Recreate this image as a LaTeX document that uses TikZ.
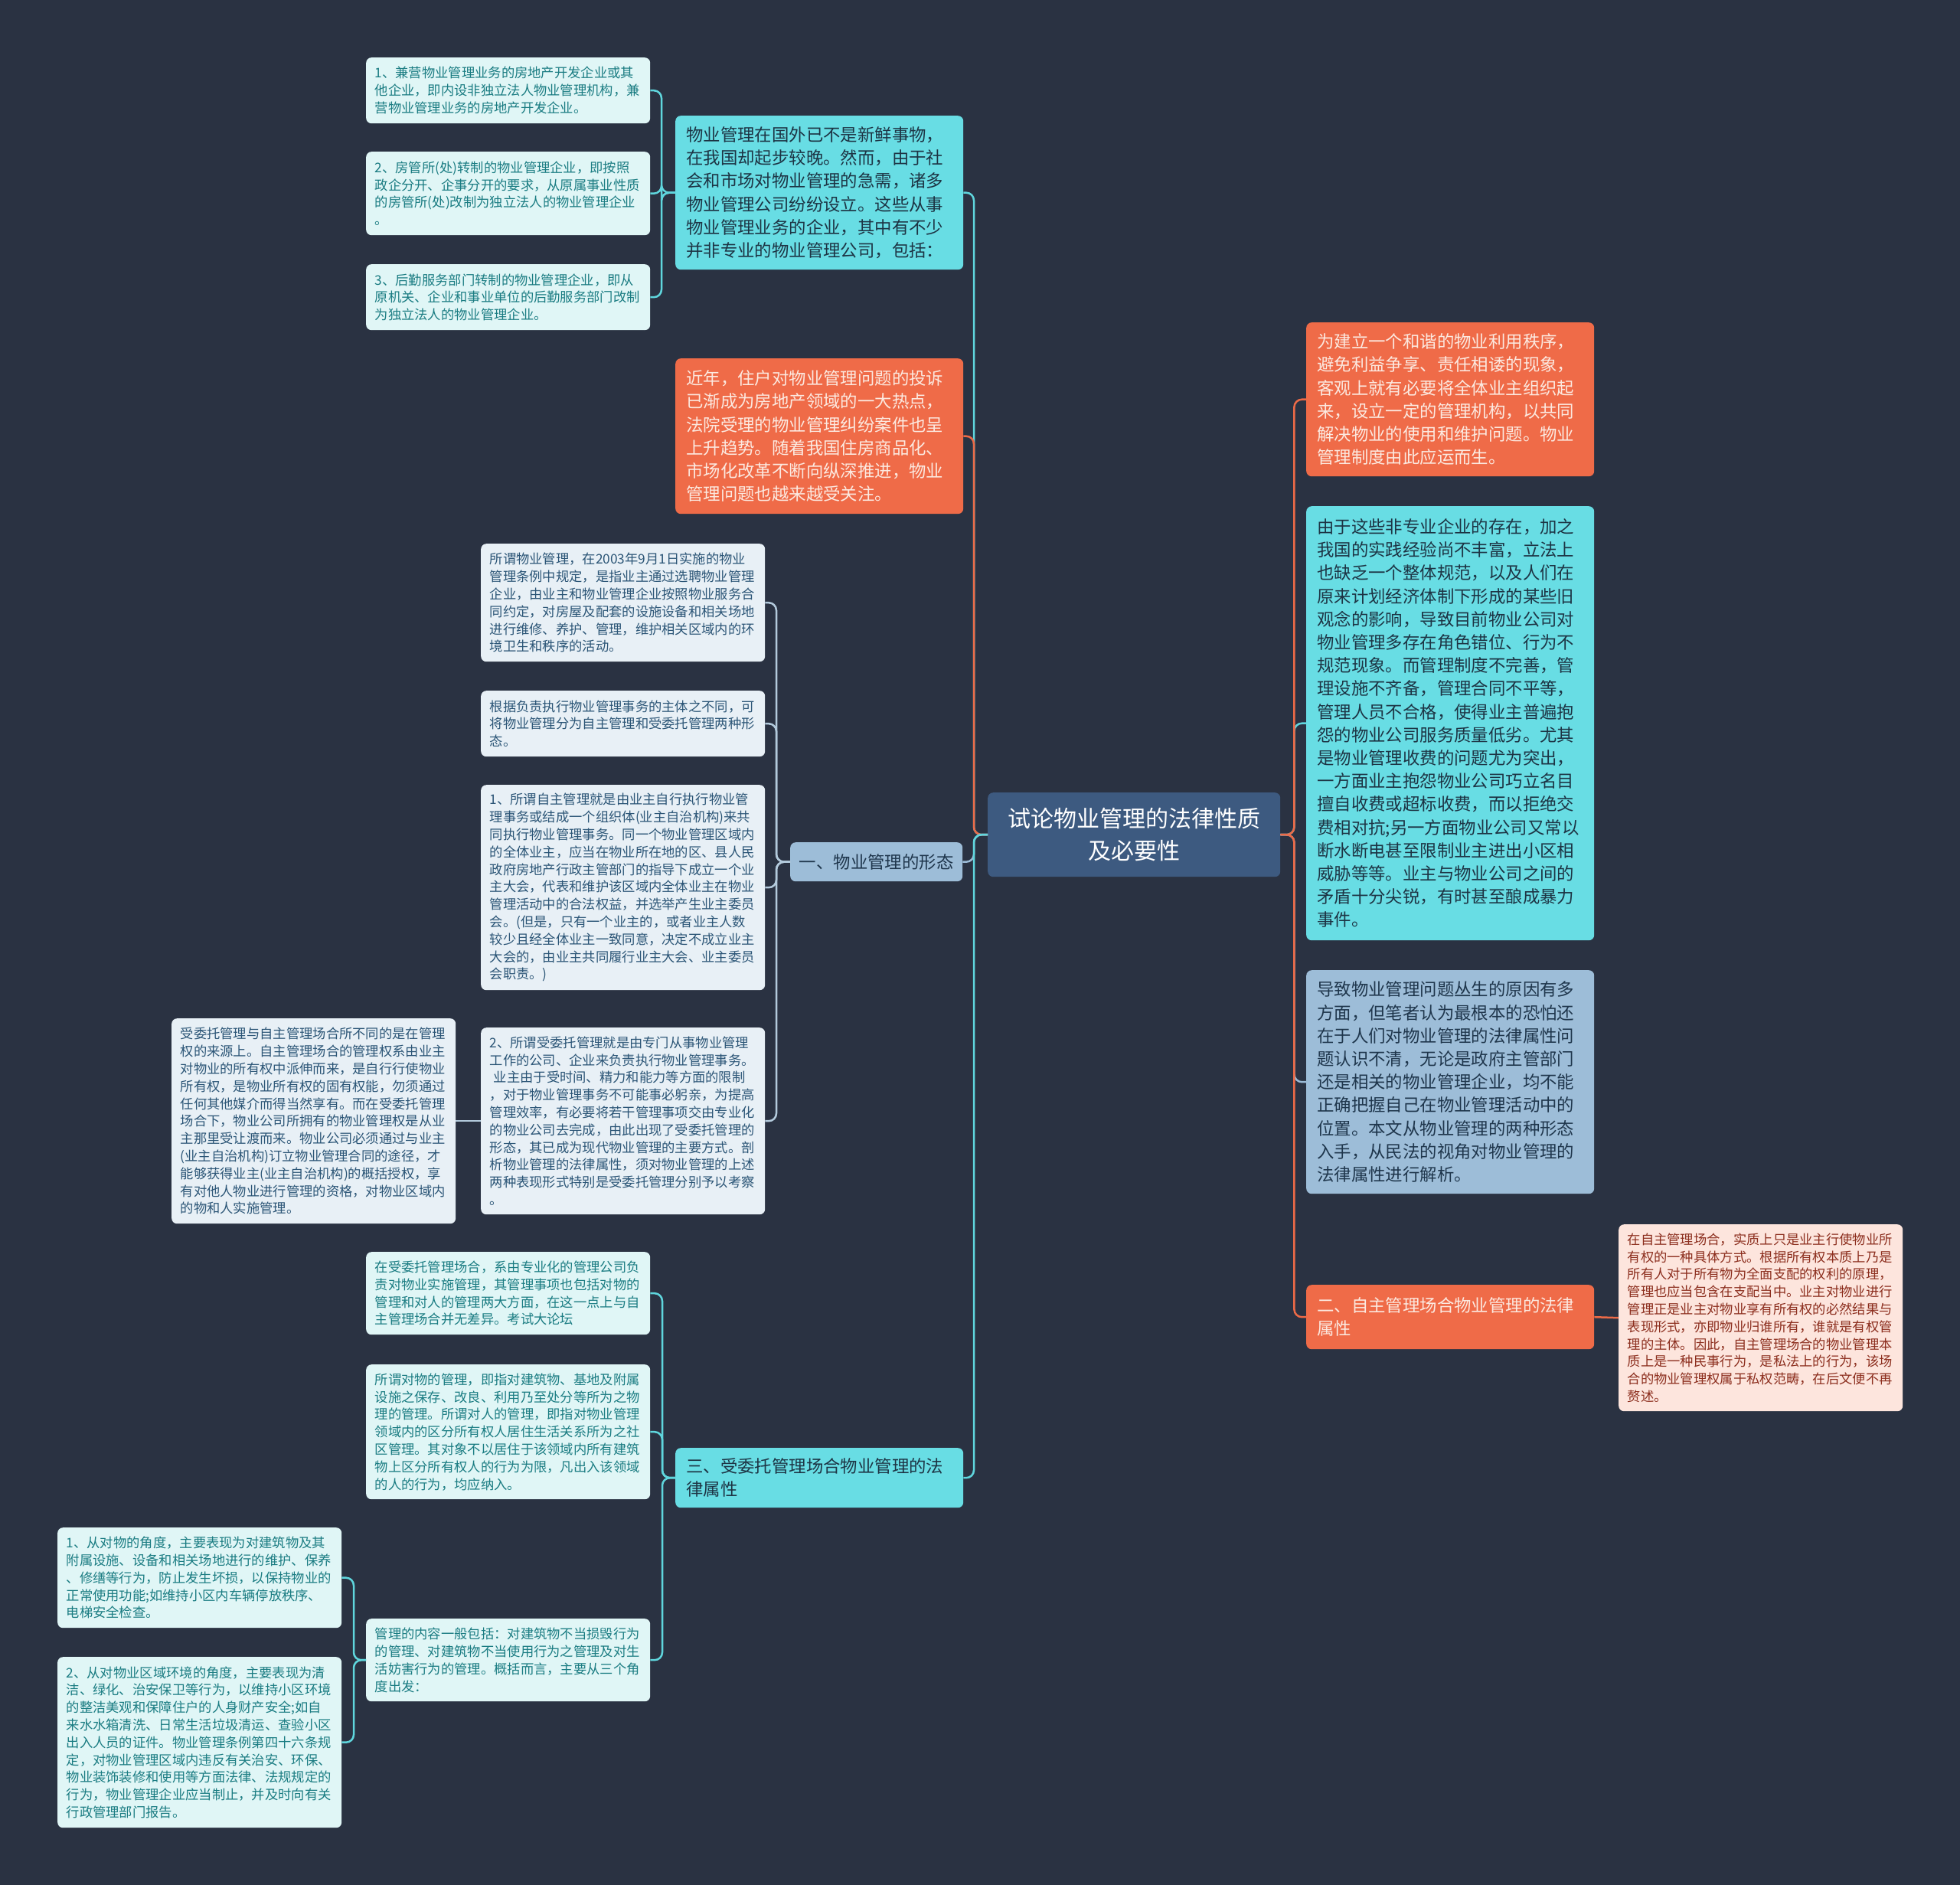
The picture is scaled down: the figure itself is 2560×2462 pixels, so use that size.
\documentclass[tikz,border=0pt]{standalone}
\usepackage{fontspec}
\setmainfont{Noto Sans CJK SC}
\definecolor{bgc}{HTML}{2A3242}
\definecolor{ctrfill}{HTML}{3D5A80}
\definecolor{cyanfill}{HTML}{68DDE4}
\definecolor{cyantext}{HTML}{1D3444}
\definecolor{orgfill}{HTML}{EF6B48}
\definecolor{orgtext}{HTML}{FCE9E0}
\definecolor{bluefill}{HTML}{9DBDD8}
\definecolor{bluetext}{HTML}{1F364C}
\definecolor{scyanfill}{HTML}{E0F6F6}
\definecolor{scyantext}{HTML}{1A7C82}
\definecolor{sgrayfill}{HTML}{E8F0F6}
\definecolor{sgraytext}{HTML}{2B5576}
\definecolor{spinkfill}{HTML}{FDE5DD}
\definecolor{spinktext}{HTML}{8C2E1E}
\definecolor{cyanline}{HTML}{5FD6DD}
\definecolor{orgline}{HTML}{EC6A47}
\definecolor{blueline}{HTML}{9BBBD6}
\definecolor{lblueline}{HTML}{B3CADC}
\begin{document}
\begin{tikzpicture}[x=1pt,y=-1pt,
  boxbase/.style={rounded corners=7pt, anchor=north west, align=left, inner ysep=0pt},
  smallbox/.style={boxbase, font=\fontsize{17.3}{22.8}\selectfont, text width=348pt, inner xsep=11.5pt},
  bigbox/.style={boxbase, font=\fontsize{22.4}{30.2}\selectfont, text width=348pt, inner xsep=14pt},
  scyan/.style={smallbox, fill=scyanfill, text=scyantext},
  sgray/.style={smallbox, fill=sgrayfill, text=sgraytext},
  spink/.style={smallbox, fill=spinkfill, text=spinktext},
  bcyan/.style={bigbox, fill=cyanfill, text=cyantext},
  borg/.style={bigbox, fill=orgfill, text=orgtext},
  bblue/.style={bigbox, fill=bluefill, text=bluetext},
  link/.style={line width=2.5pt, rounded corners=10pt},
]
\useasboundingbox (0,0) rectangle (2560,2462);
\fill[bgc] (0,0) rectangle (2560,2462);

% center
\node[boxbase, align=center, fill=ctrfill, text=white, font=\fontsize{30}{42}\selectfont,
  text width=362pt, inner xsep=10pt, minimum height=110pt] (ctr) at (1290,1035)
  {试论物业管理的法律性质\\及必要性};

% left branch 1
\node[bcyan, minimum height=201pt] (P1) at (882,151)
{物业管理在国外已不是新鲜事物，\\
在我国却起步较晚。然而，由于社\\
会和市场对物业管理的急需，诸多\\
物业管理公司纷纷设立。这些从事\\
物业管理业务的企业，其中有不少\\
并非专业的物业管理公司，包括：};

\node[scyan, minimum height=86pt] (L1) at (478,75)
{1、兼营物业管理业务的房地产开发企业或其\\
他企业，即内设非独立法人物业管理机构，兼\\
营物业管理业务的房地产开发企业。};
\node[scyan, minimum height=109pt] (L2) at (478,198)
{2、房管所(处)转制的物业管理企业，即按照\\
政企分开、企事分开的要求，从原属事业性质\\
的房管所(处)改制为独立法人的物业管理企业\\
。};
\node[scyan, minimum height=86pt] (L3) at (478,345)
{3、后勤服务部门转制的物业管理企业，即从\\
原机关、企业和事业单位的后勤服务部门改制\\
为独立法人的物业管理企业。};

% left branch 2
\node[borg, minimum height=203pt] (P2) at (882,468)
{近年，住户对物业管理问题的投诉\\
已渐成为房地产领域的一大热点，\\
法院受理的物业管理纠纷案件也呈\\
上升趋势。随着我国住房商品化、\\
市场化改革不断向纵深推进，物业\\
管理问题也越来越受关注。};

% left branch 3
\node[bblue, align=center, text width=203pt, inner xsep=11pt, minimum height=51pt] (P3) at (1032,1100)
{一、物业管理的形态};

\node[sgray, minimum height=154pt] (C1) at (628,710)
{所谓物业管理，在2003年9月1日实施的物业\\
管理条例中规定，是指业主通过选聘物业管理\\
企业，由业主和物业管理企业按照物业服务合\\
同约定，对房屋及配套的设施设备和相关场地\\
进行维修、养护、管理，维护相关区域内的环\\
境卫生和秩序的活动。};
\node[sgray, minimum height=86pt] (C2) at (628,902)
{根据负责执行物业管理事务的主体之不同，可\\
将物业管理分为自主管理和受委托管理两种形\\
态。};
\node[sgray, minimum height=268pt] (C3) at (628,1025)
{1、所谓自主管理就是由业主自行执行物业管\\
理事务或结成一个组织体(业主自治机构)来共\\
同执行物业管理事务。同一个物业管理区域内\\
的全体业主，应当在物业所在地的区、县人民\\
政府房地产行政主管部门的指导下成立一个业\\
主大会，代表和维护该区域内全体业主在物业\\
管理活动中的合法权益，并选举产生业主委员\\
会。(但是，只有一个业主的，或者业主人数\\
较少且经全体业主一致同意，决定不成立业主\\
大会的，由业主共同履行业主大会、业主委员\\
会职责。)};
\node[sgray, minimum height=244pt] (C4) at (628,1342)
{2、所谓受委托管理就是由专门从事物业管理\\
工作的公司、企业来负责执行物业管理事务。\\
\hspace*{0.3em}业主由于受时间、精力和能力等方面的限制\\
，对于物业管理事务不可能事必躬亲，为提高\\
管理效率，有必要将若干管理事项交由专业化\\
的物业公司去完成，由此出现了受委托管理的\\
形态，其已成为现代物业管理的主要方式。剖\\
析物业管理的法律属性，须对物业管理的上述\\
两种表现形式特别是受委托管理分别予以考察\\
。};
\node[sgray, minimum height=268pt] (C5) at (224,1330)
{受委托管理与自主管理场合所不同的是在管理\\
权的来源上。自主管理场合的管理权系由业主\\
对物业的所有权中派伸而来，是自行行使物业\\
所有权，是物业所有权的固有权能，勿须通过\\
任何其他媒介而得当然享有。而在受委托管理\\
场合下，物业公司所拥有的物业管理权是从业\\
主那里受让渡而来。物业公司必须通过与业主\\
(业主自治机构)订立物业管理合同的途径，才\\
能够获得业主(业主自治机构)的概括授权，享\\
有对他人物业进行管理的资格，对物业区域内\\
的物和人实施管理。};

% left branch 4
\node[bcyan, minimum height=78pt] (P4) at (882,1891)
{三、受委托管理场合物业管理的法\\律属性};

\node[scyan, minimum height=108pt] (D1) at (478,1635)
{在受委托管理场合，系由专业化的管理公司负\\
责对物业实施管理，其管理事项也包括对物的\\
管理和对人的管理两大方面，在这一点上与自\\
主管理场合并无差异。考试大论坛};
\node[scyan, minimum height=176pt] (D2) at (478,1782)
{所谓对物的管理，即指对建筑物、基地及附属\\
设施之保存、改良、利用乃至处分等所为之物\\
理的管理。所谓对人的管理，即指对物业管理\\
领域内的区分所有权人居住生活关系所为之社\\
区管理。其对象不以居住于该领域内所有建筑\\
物上区分所有权人的行为为限，凡出入该领域\\
的人的行为，均应纳入。};
\node[scyan, minimum height=108pt] (D3) at (478,2114)
{管理的内容一般包括：对建筑物不当损毁行为\\
的管理、对建筑物不当使用行为之管理及对生\\
活妨害行为的管理。概括而言，主要从三个角\\
度出发：};

\node[scyan, minimum height=131pt] (E1) at (75,1995)
{1、从对物的角度，主要表现为对建筑物及其\\
附属设施、设备和相关场地进行的维护、保养\\
、修缮等行为，防止发生坏损，以保持物业的\\
正常使用功能;如维持小区内车辆停放秩序、\\
电梯安全检查。};
\node[scyan, minimum height=223pt] (E2) at (75,2164)
{2、从对物业区域环境的角度，主要表现为清\\
洁、绿化、治安保卫等行为，以维持小区环境\\
的整洁美观和保障住户的人身财产安全;如自\\
来水水箱清洗、日常生活垃圾清运、查验小区\\
出入人员的证件。物业管理条例第四十六条规\\
定，对物业管理区域内违反有关治安、环保、\\
物业装饰装修和使用等方面法律、法规规定的\\
行为，物业管理企业应当制止，并及时向有关\\
行政管理部门报告。};

% right side
\node[borg, minimum height=201pt] (R1) at (1706,421)
{为建立一个和谐的物业利用秩序，\\
避免利益争享、责任相诿的现象，\\
客观上就有必要将全体业主组织起\\
来，设立一定的管理机构，以共同\\
解决物业的使用和维护问题。物业\\
管理制度由此应运而生。};
\node[bcyan, minimum height=567pt] (R2) at (1706,661)
{由于这些非专业企业的存在，加之\\
我国的实践经验尚不丰富，立法上\\
也缺乏一个整体规范，以及人们在\\
原来计划经济体制下形成的某些旧\\
观念的影响，导致目前物业公司对\\
物业管理多存在角色错位、行为不\\
规范现象。而管理制度不完善，管\\
理设施不齐备，管理合同不平等，\\
管理人员不合格，使得业主普遍抱\\
怨的物业公司服务质量低劣。尤其\\
是物业管理收费的问题尤为突出，\\
一方面业主抱怨物业公司巧立名目\\
擅自收费或超标收费，而以拒绝交\\
费相对抗;另一方面物业公司又常以\\
断水断电甚至限制业主进出小区相\\
威胁等等。业主与物业公司之间的\\
矛盾十分尖锐，有时甚至酿成暴力\\
事件。};
\node[bblue, minimum height=292pt] (R3) at (1706,1267)
{导致物业管理问题丛生的原因有多\\
方面，但笔者认为最根本的恐怕还\\
在于人们对物业管理的法律属性问\\
题认识不清，无论是政府主管部门\\
还是相关的物业管理企业，均不能\\
正确把握自己在物业管理活动中的\\
位置。本文从物业管理的两种形态\\
入手，从民法的视角对物业管理的\\
法律属性进行解析。};
\node[borg, minimum height=84pt] (R4) at (1706,1678)
{二、自主管理场合物业管理的法律\\属性};
\node[spink, minimum height=244pt] (R5) at (2114,1599)
{在自主管理场合，实质上只是业主行使物业所\\
有权的一种具体方式。根据所有权本质上乃是\\
所有人对于所有物为全面支配的权利的原理，\\
管理也应当包含在支配当中。业主对物业进行\\
管理正是业主对物业享有所有权的必然结果与\\
表现形式，亦即物业归谁所有，谁就是有权管\\
理的主体。因此，自主管理场合的物业管理本\\
质上是一种民事行为，是私法上的行为，该场\\
合的物业管理权属于私权范畴，在后文便不再\\
赘述。};

% connectors: center -> left
\draw[link, cyanline] (ctr.west) -- ++(-18,0) |- (P1.east);
\draw[link, orgline] (ctr.west) -- ++(-18,0) |- (P2.east);
\draw[link, blueline] (ctr.west) -- ++(-18,0) |- (P3.east);
\draw[link, cyanline] (ctr.west) -- ++(-18,0) |- (P4.east);
% center -> right
\draw[link, cyanline] (ctr.east) -- ++(18,0) |- (R2.west);
\draw[link, orgline] (ctr.east) -- ++(18,0) |- (R1.west);
\draw[link, blueline] (ctr.east) -- ++(18,0) |- (R3.west);
\draw[link, orgline] (ctr.east) -- ++(18,0) |- (R4.west);
% P1 children
\foreach \c in {L1,L2,L3}
  \draw[link, cyanline] (P1.west) -- ++(-18,0) |- (\c.east);
% P3 children
\foreach \c in {C1,C2,C3,C4}
  \draw[link, lblueline] (P3.west) -- ++(-18,0) |- (\c.east);
\draw[link, lblueline] (C4.west) -- (C5.east);
% P4 children
\foreach \c in {D1,D2,D3}
  \draw[link, cyanline] (P4.west) -- ++(-17,0) |- (\c.east);
\foreach \c in {E1,E2}
  \draw[link, cyanline] (D3.west) -- ++(-16,0) |- (\c.east);
% R4 child
\draw[link, orgline] (R4.east) -- (R5.west);
\end{tikzpicture}
\end{document}
